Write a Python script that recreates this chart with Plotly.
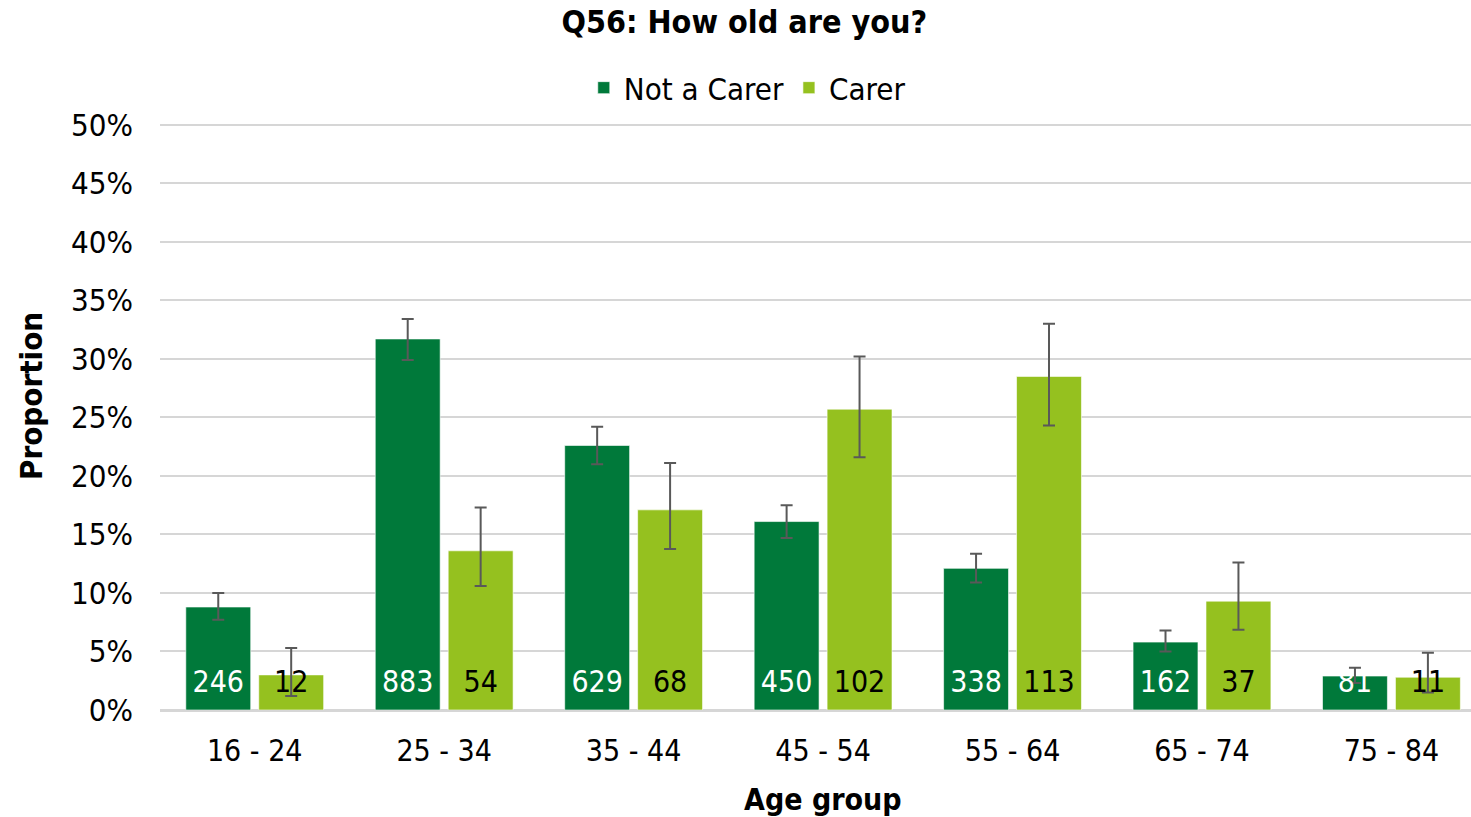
import plotly.graph_objects as go

# Survey responses by age group (proportion of each group, %)
age_groups = ["16 - 24", "25 - 34", "35 - 44", "45 - 54", "55 - 64", "65 - 74", "75 - 84"]

not_carer_pct = [8.8, 31.7, 22.6, 16.1, 12.1, 5.8, 2.9]
not_carer_upper = [10.0, 33.4, 24.2, 17.5, 13.35, 6.8, 3.6]
not_carer_lower = [7.7, 29.9, 21.0, 14.7, 10.9, 5.0, 2.3]
not_carer_n = [246, 883, 629, 450, 338, 162, 81]

carer_pct = [3.0, 13.6, 17.1, 25.7, 28.5, 9.3, 2.8]
carer_upper = [5.3, 17.3, 21.1, 30.2, 33.0, 12.6, 4.9]
carer_lower = [1.2, 10.6, 13.75, 21.6, 24.3, 6.85, 1.5]
carer_n = [12, 54, 68, 102, 113, 37, 11]

y_ticks = list(range(0, 55, 5))
y_tick_labels = [f"{v}%" for v in y_ticks]

DARK_GREEN = "#00793A"
LIME = "#95C11F"
FONT = "DejaVu Sans Condensed, DejaVu Sans, sans-serif"
GRID = "#D6D6D6"

W, H = 1471, 817
M_L, M_R, M_T, M_B = 160, 0, 123, 107


def err(vals, hi, lo):
    return dict(
        type="data",
        symmetric=False,
        array=[h - v for v, h in zip(vals, hi)],
        arrayminus=[v - l for v, l in zip(vals, lo)],
        color="#595959",
        thickness=2,
        width=6,
    )


fig = go.Figure()

series = [
    ("Not a Carer", not_carer_pct, not_carer_upper, not_carer_lower, not_carer_n, DARK_GREEN, "white", "nc"),
    ("Carer", carer_pct, carer_upper, carer_lower, carer_n, LIME, "black", "c"),
]

for name, vals, hi, lo, counts, colour, txt_colour, grp in series:
    fig.add_trace(go.Bar(
        name=name,
        x=age_groups,
        y=vals,
        offsetgroup=grp,
        marker=dict(color=colour, line=dict(color="rgba(255,255,255,0.6)", width=1)),
        error_y=err(vals, hi, lo),
        hoverinfo="skip",
    ))

# Respondent counts written near the base of each bar
for name, vals, hi, lo, counts, colour, txt_colour, grp in series:
    fig.add_trace(go.Scatter(
        x=age_groups,
        y=[0] * len(age_groups),
        offsetgroup=grp,
        mode="markers+text",
        marker=dict(size=16, opacity=0),
        text=[str(c) for c in counts],
        textposition="top center",
        textfont=dict(family=FONT, size=30, color=txt_colour),
        showlegend=False,
        hoverinfo="skip",
        cliponaxis=False,
    ))

plot_h = H - M_T - M_B
plot_w = W - M_L - M_R

fig.update_layout(
    width=W,
    height=H,
    paper_bgcolor="white",
    plot_bgcolor="white",
    font=dict(family=FONT, size=30, color="black"),
    margin=dict(l=M_L, r=M_R, t=M_T, b=M_B, autoexpand=False),
    barmode="group",
    bargap=0.23,
    bargroupgap=0.11,
    scattermode="group",
    scattergap=0.23,
    title=dict(
        text="<b>Q56: How old are you?</b>",
        x=0.506, xref="container", xanchor="center",
        y=1 - 22 / H, yref="container", yanchor="middle",
        font=dict(family=FONT, size=32, color="black"),
    ),
    legend=dict(
        orientation="h",
        x=0.508, xref="container", xanchor="center",
        y=1 - 88 / H, yref="container", yanchor="middle",
        font=dict(family=FONT, size=31, color="black"),
        itemwidth=30,
        traceorder="normal",
    ),
    showlegend=True,
    annotations=[
        dict(
            text="<b>Proportion</b>",
            xref="paper", yref="paper",
            x=(31 - M_L) / plot_w, y=(H - M_B - 396) / plot_h,
            xanchor="center", yanchor="middle",
            textangle=-90, showarrow=False,
            font=dict(family=FONT, size=31, color="black"),
        ),
        dict(
            text="<b>Age group</b>",
            xref="paper", yref="paper",
            x=(823 - M_L) / plot_w, y=(H - M_B - 800) / plot_h,
            xanchor="center", yanchor="middle",
            showarrow=False,
            font=dict(family=FONT, size=30, color="black"),
        ),
    ],
)

fig.update_yaxes(
    range=[0, 50.15],
    tickmode="array",
    tickvals=y_ticks,
    ticktext=y_tick_labels,
    showgrid=True,
    gridcolor=GRID,
    gridwidth=1.5,
    zeroline=True,
    zerolinecolor=GRID,
    zerolinewidth=1.5,
    ticklabelstandoff=26,
    tickfont=dict(family=FONT, size=31),
)

# the last category slot runs slightly past the right edge of the page
fig.update_xaxes(
    range=[-0.5, 6.42],
    showgrid=False,
    showline=True,
    linecolor=GRID,
    linewidth=1.5,
    ticklabelstandoff=13,
    tickfont=dict(family=FONT, size=30),
)

fig.write_html("out.html")
